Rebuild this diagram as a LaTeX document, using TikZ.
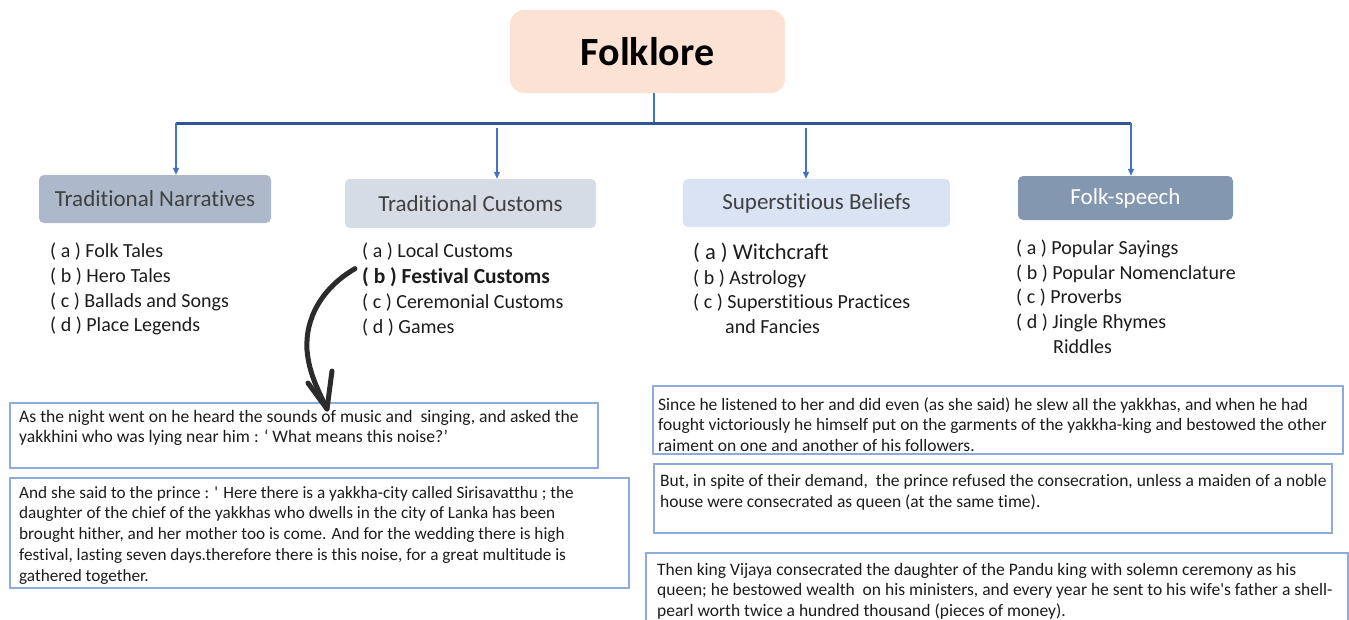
\documentclass[tikz,border=0pt]{standalone}
\usepackage{fontspec}
\setmainfont{Carlito}[Ligatures=NoCommon]
% plain family: no TeX quote mapping, no common ligatures
\newfontfamily\carlito{Carlito}[Ligatures=NoCommon]
\usetikzlibrary{arrows.meta}
\definecolor{peach}{HTML}{FBE2D5}
\definecolor{narrfill}{HTML}{ADB9CA}
\definecolor{custfill}{HTML}{D6DCE5}
\definecolor{belifill}{HTML}{DAE3F3}
\definecolor{speechfill}{HTML}{8497B0}
\definecolor{hdrtext}{HTML}{404040}
\definecolor{itemtext}{HTML}{1C1C1C}
\definecolor{linkblue}{HTML}{4472C4}
\definecolor{barblue}{HTML}{2F5597}
\definecolor{noteborder}{HTML}{8FAADC}
\definecolor{curvegray}{HTML}{2B2B2B}
\begin{document}
\begin{tikzpicture}[x=1pt,y=-1pt,
  hdr/.style={rounded corners=5pt, inner sep=0pt, font=\carlito\fontsize{23}{27}\selectfont, text=hdrtext},
  item/.style={anchor=base west, inner sep=0pt, font=\carlito\fontsize{20}{24}\selectfont, text=itemtext},
  bolditem/.style={item, font=\carlito\fontsize{21.5}{24}\selectfont\bfseries},
  bigitem/.style={item, font=\carlito\fontsize{22.5}{24}\selectfont},
  note/.style={draw=noteborder, line width=1.5pt, inner sep=0pt, anchor=north west},
  notetext/.style 2 args={anchor=north west, inner sep=0pt, align=left,
    font=\carlito\fontsize{#1}{#2}\selectfont, text=itemtext},
  link/.style={draw=linkblue, line width=1.2pt, -{Triangle[length=7pt,width=6pt]}},
  curve/.style={draw=curvegray, line width=5pt, line cap=round, line join=round}
]
\useasboundingbox (0,0) rectangle (1349,619);

% root and category headers
\node[fill=peach, rounded corners=14pt, minimum width=275pt, minimum height=83pt, inner sep=0pt,
      font=\carlito\fontsize{40}{44}\selectfont\bfseries] (folk) at (647.5,51.5) {Folklore};
\node[hdr, fill=narrfill, minimum width=232pt, minimum height=48pt] (narr) at (155,199) {Traditional Narratives};
\node[hdr, fill=custfill, minimum width=251pt, minimum height=49pt] (cust) at (470.5,203.5) {Traditional Customs};
\node[hdr, fill=belifill, minimum width=267pt, minimum height=48pt] (beli) at (816.5,203) {Superstitious Beliefs};
\node[hdr, fill=speechfill, text=white, minimum width=215pt, minimum height=44pt] (fspe) at (1125.5,198) {Folk-speech};

% tree connectors
\coordinate (barL) at (176,123);
\coordinate (barR) at (1131,123);
\coordinate (c2) at (497,128);
\coordinate (c3) at (806,128);
\draw[draw=linkblue, line width=1.5pt] (folk.south -| 654,0) -- (barL -| 654,0);
\draw[draw=barblue, line width=3pt] (barL) -- (barR);
\draw[link] (barL) -- (barL |- narr.north);
\draw[link] (c2) -- (c2 |- cust.north);
\draw[link] (c3) -- (c3 |- beli.north);
\draw[link] (barR) -- (barR |- fspe.north);

% Traditional Narratives
\node[item] (n1) at (50,257) {( a ) Folk Tales};
\node[item] (n2) at (50,282) {( b ) Hero Tales};
\node[item] (n3) at (50,307) {( c ) Ballads and Songs};
\node[item] (n4) at (50,331) {( d ) Place Legends};

% Traditional Customs
\node[item] (t1) at (362,257) {( a ) Local Customs};
\node[bolditem] (t2) at (362,283) {( b ) Festival Customs};
\node[item] (t3) at (362,308) {( c ) Ceremonial Customs};
\node[item] (t4) at (362,333) {( d ) Games};

% Superstitious Beliefs
\node[bigitem] (s1) at (693,259) {( a ) Witchcraft};
\node[item] (s2) at (693,284) {( b ) Astrology};
\node[item] (s3) at (693,308) {( c ) Superstitious Practices};
\node[item] (s4) at (725,333) {and Fancies};

% Folk-speech
\node[item] (f1) at (1016,254) {( a ) Popular Sayings};
\node[item] (f2) at (1016,279) {( b ) Popular Nomenclature};
\node[item] (f3) at (1016,303) {( c ) Proverbs};
\node[item] (f4) at (1016,328) {( d ) Jingle Rhymes};
\node[item] (f5) at (1053,353) {Riddles};

% story excerpts
\node[note, minimum width=588pt, minimum height=65pt] (box1) at (9,402) {};
\node[note, minimum width=619pt, minimum height=110pt] (box2) at (9,477) {};
\node[note, minimum width=690pt, minimum height=68pt] (box3) at (652,385) {};
\node[note, minimum width=678pt, minimum height=69pt] (box4) at (653,463) {};
\node[note, minimum width=702pt, minimum height=90pt] (box5) at (645,552) {};

% text tops = first baseline - 0.7 baselineskip (strut height)
\node[notetext={17.6}{20.5}] (x1) at (19,407.6) {\strut As the night went on he heard the sounds of music and \ singing, and asked the\\
yakkhini who was lying near him : ‘ What means this noise?’};
\node[notetext={17.2}{20.8}] (x2) at (19,483.4) {\strut And she said to the prince : ' Here there is a yakkha-city called Sirisavatthu ; the\\
daughter of the chief of the yakkhas who dwells in the city of Lanka has been\\
brought hither, and her mother too is come. And for the wedding there is high\\
festival, lasting seven days.therefore there is this noise, for a great multitude is\\
gathered together.};
\node[notetext={17.5}{20.5}] (x3) at (658,395.6) {\strut Since he listened to her and did even (as she said) he slew all the yakkhas, and when he had\\
fought victoriously he himself put on the garments of the yakkha-king and bestowed the other\\
raiment on one and another of his followers.};
\node[notetext={17.5}{21}] (x4) at (660,471.3) {\strut But, in spite of their demand, \ the prince refused the consecration, unless a maiden of a noble\\
house were consecrated as queen (at the same time).};
\node[notetext={17.5}{20.5}] (x5) at (657,560.6) {\strut Then king Vijaya consecrated the daughter of the Pandu king with solemn ceremony as his\\
queen; he bestowed wealth \ on his ministers, and every year he sent to his wife's father a shell-\\
pearl worth twice a hundred thousand (pieces of money).};

% hand-drawn pointer from the festival item to the first excerpt
\coordinate (cs) at ([xshift=-7pt,yshift=8pt]t2.west);
\coordinate (ce) at ([yshift=-7pt]box1.north west -| 327,0);
\draw[curve] (cs) .. controls (322,288) and (305,318) .. (307,350)
             .. controls (309,372) and (316,386) .. (ce);
\draw[curve] (308,383) -- (ce) -- (332,371);
\end{tikzpicture}
\end{document}
